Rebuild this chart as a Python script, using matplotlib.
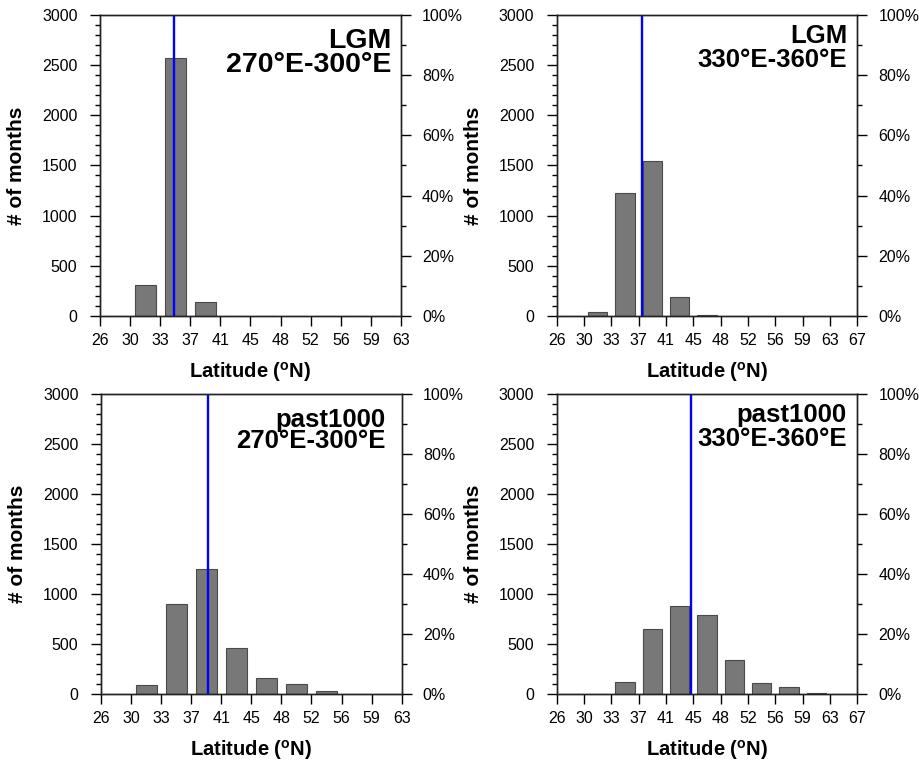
import numpy as np
import matplotlib
matplotlib.use("Agg")
import matplotlib.pyplot as plt
from matplotlib.ticker import MultipleLocator, FixedLocator

plt.rcParams['font.family'] = ['Liberation Sans', 'DejaVu Sans']
plt.rcParams['mathtext.fontset'] = 'custom'
plt.rcParams['mathtext.rm'] = 'Liberation Sans'
plt.rcParams['mathtext.bf'] = 'Liberation Sans:bold'
plt.rcParams['mathtext.it'] = 'Liberation Sans:italic'

# bin edges (deg N) and their tick labels
edges_270 = [26.0, 29.7, 33.4, 37.1, 40.8, 44.5, 48.2, 51.9, 55.6, 59.3, 63.0]
edges_330 = [26.0, 29.7, 33.4, 37.1, 40.8, 44.5, 48.2, 51.9, 55.6, 59.3, 63.0, 66.7]
labels_270 = ['26', '30', '33', '37', '41', '45', '48', '52', '56', '59', '63']
labels_330 = ['26', '30', '33', '37', '41', '45', '48', '52', '56', '59', '63', '67']

# number of months per latitude bin
lgm_270 = [0, 306, 2568, 136, 0, 0, 0, 0, 0, 0]
lgm_330 = [0, 35, 1223, 1548, 186, 10, 0, 0, 0, 0, 0]
p1k_270 = [0, 97, 907, 1250, 460, 167, 100, 30, 5, 0]
p1k_330 = [0, 0, 126, 655, 885, 795, 346, 113, 76, 13, 0]

# mean latitude (blue line)
mean_lat = [35.06, 37.55, 39.12, 44.22]

experiments = ['LGM', 'LGM', 'past1000', 'past1000']
regions = ['270', '330', '270', '330']
total_months = 3000

panels = [
    (edges_270, labels_270, lgm_270),
    (edges_330, labels_330, lgm_330),
    (edges_270, labels_270, p1k_270),
    (edges_330, labels_330, p1k_330),
]

# layout (figure fractions) and annotation placement per panel
axes_pos = [
    [0.1088, 0.5859, 0.3275, 0.3945],
    [0.6058, 0.5859, 0.3271, 0.3945],
    [0.1099, 0.0898, 0.3272, 0.3939],
    [0.6058, 0.0898, 0.3271, 0.3939],
]
text_x = [0.969, 0.967, 0.947, 0.965]
text_y1 = [0.891, 0.906, 0.891, 0.908]
text_y2 = [0.810, 0.828, 0.819, 0.828]
text_size = [20.5, 18.5, 18.5, 18.5]

fig = plt.figure(figsize=(9.19, 7.63), dpi=100)

for i, (edges, labels, counts) in enumerate(panels):
    ax = fig.add_axes(axes_pos[i])
    edges = np.array(edges)
    centers = (edges[:-1] + edges[1:]) / 2
    width = 0.7 * (edges[1] - edges[0])
    ax.bar(centers, counts, width=width, color='#787878',
           edgecolor='#4a4a4a', linewidth=0.8, zorder=1)
    ax.axvline(mean_lat[i], color='#0000ff', lw=1.7, zorder=3)

    ax.set_xlim(edges[0], edges[-1])
    ax.set_ylim(0, total_months)
    ax.xaxis.set_major_locator(FixedLocator(edges))
    ax.set_xticklabels(labels)
    ax.yaxis.set_major_locator(MultipleLocator(500))
    ax.yaxis.set_minor_locator(MultipleLocator(100))
    ax.tick_params(axis='x', which='major', direction='out', length=7.2,
                   width=1, pad=5, labelsize=11.5, top=False)
    ax.tick_params(axis='y', which='major', direction='out', length=7.2,
                   width=1, pad=9, labelsize=11.5, right=False)
    ax.tick_params(axis='y', which='minor', direction='out', length=3.6,
                   width=1, right=False)
    for s in ax.spines.values():
        s.set_linewidth(1.0)
        s.set_color('#222222')

    ax.set_ylabel('# of months', fontsize=15, fontweight='bold')
    ax.yaxis.set_label_coords(-0.245, 0.5)
    ax.set_xlabel(r'Latitude ($^{\mathbf{o}}$N)', fontsize=14.5, fontweight='bold')
    ax.xaxis.set_label_coords(0.5, -0.145)

    ax2 = ax.twinx()
    ax2.set_ylim(0, 100)
    ax2.yaxis.set_major_locator(MultipleLocator(20))
    ax2.yaxis.set_minor_locator(MultipleLocator(10))
    ax2.set_yticklabels([f'{int(v)}%' for v in ax2.get_yticks()])
    ax2.tick_params(axis='y', which='major', direction='out', length=7.2,
                    width=1, pad=8, labelsize=11.5)
    ax2.tick_params(axis='y', which='minor', direction='out', length=3.6, width=1)
    for s in ax2.spines.values():
        s.set_linewidth(1.0)
        s.set_color('#222222')

    lon0 = regions[i]
    lon1 = str(int(lon0) + 30)
    ax.text(text_x[i], text_y1[i], experiments[i], transform=ax.transAxes,
            ha='right', va='baseline', fontsize=text_size[i], fontweight='bold')
    ax.text(text_x[i], text_y2[i], f'{lon0}\u00b0E-{lon1}\u00b0E',
            transform=ax.transAxes, ha='right', va='baseline',
            fontsize=text_size[i], fontweight='bold')

fig.savefig('out.png', dpi=100)
